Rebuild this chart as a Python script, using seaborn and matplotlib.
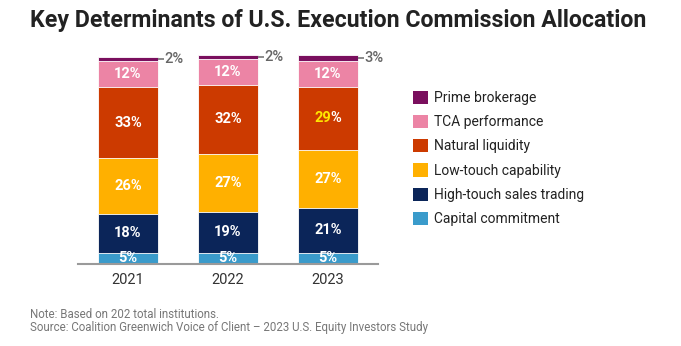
import matplotlib
matplotlib.use("Agg")
import matplotlib.pyplot as plt
import seaborn as sns
import numpy as np
import pandas as pd
from matplotlib.patches import Patch

years = ["2021", "2022", "2023"]
# stacked from the baseline upward
categories = ["Capital commitment", "High-touch sales trading", "Low-touch capability",
              "Natural liquidity", "TCA performance", "Prime brokerage"]
capital_commitment = [5, 5, 5]
high_touch = [18, 19, 21]
low_touch = [26, 27, 27]
natural_liquidity = [33, 32, 29]
tca_performance = [12, 12, 12]
prime_brokerage = [2, 2, 3]
colors = ["#3A9BCB", "#0B2559", "#FFB000", "#CC3A00", "#EC84A5", "#7A0F5E"]

series = [capital_commitment, high_touch, low_touch,
          natural_liquidity, tca_performance, prime_brokerage]

sns.set_theme(style="white")
plt.rcParams["font.family"] = ["Roboto", "DejaVu Sans"]

W, H = 681, 346
DPI = 100
fig = plt.figure(figsize=(W / DPI, H / DPI), dpi=DPI)
ax = fig.add_axes([78 / W, (H - 263.5) / H, 300 / W, 215 / H])

values = np.array(series, dtype=float)
cum = values.cumsum(axis=0)
bottoms = cum - values

# draw tallest cumulative first so each lower layer sits on top
for i in range(len(categories) - 1, -1, -1):
    df = pd.DataFrame({"year": years, "value": cum[i]})
    sns.barplot(data=df, x="year", y="value", color=colors[i], width=0.6,
                saturation=1, edgecolor="white", linewidth=0.6, ax=ax)

ax.set_xlim(-0.5, 2.5)
ax.set_ylim(0, 100)
ax.set_xlabel("")
ax.set_ylabel("")
ax.set_yticks([])
for s in ["top", "right", "left"]:
    ax.spines[s].set_visible(False)
ax.spines["bottom"].set_color("#9A9A9A")
ax.spines["bottom"].set_linewidth(1.5)
ax.tick_params(axis="x", length=0, pad=7, labelsize=10.5, labelcolor="#333333")

renderer = fig.canvas.get_renderer()
label_style = dict(fontsize=10.5, fontweight="bold")


def text_width(s):
    t = ax.text(0, 0, s, **label_style)
    w = t.get_window_extent(renderer).width
    t.remove()
    return w


highlight = {(3, 2): "#FFE600"}
for i in range(len(categories)):
    for j in range(len(years)):
        v = values[i, j]
        yc = bottoms[i, j] + v / 2
        if i == len(categories) - 1:
            ax.plot([j + 0.3, j + 0.36], [yc, yc], color="#777777", lw=1.2,
                    solid_capstyle="butt", clip_on=False)
            ax.text(j + 0.365, yc, f"{int(v)}%", ha="left", va="center",
                    fontsize=10.5, color="#666666", fontweight="medium")
            continue
        if (i, j) in highlight:
            # number and "%" drawn in two colours, centred together
            num = f"{int(v)}"
            w_full = text_width(num + "%")
            shift_pt = -w_full / 2 * 72 / DPI
            t_num = ax.annotate(num, xy=(j, yc), xytext=(shift_pt, 0),
                                textcoords="offset points", ha="left", va="center",
                                color=highlight[(i, j)], **label_style)
            ax.annotate("%", xy=(1, 0), xycoords=t_num, xytext=(-0.6, 0),
                        textcoords="offset points", ha="left", va="bottom",
                        color="white", **label_style)
        else:
            ax.text(j, yc, f"{int(v)}%", ha="center", va="center",
                    color="white", **label_style)

handles = [Patch(facecolor=colors[i], edgecolor="none") for i in range(len(categories) - 1, -1, -1)]
labels = categories[::-1]
fig.legend(handles, labels, loc="upper left", bbox_to_anchor=(413 / W, 1 - 90.5 / H),
           frameon=False, fontsize=10, handlelength=1.08, handleheight=1.08,
           handletextpad=0.45, labelspacing=0.72, borderaxespad=0, borderpad=0,
           labelcolor="#222222")

fig.text(30 / W, 1 - 20 / H, "Key Determinants of U.S. Execution Commission Allocation",
         fontsize=16.7, fontweight="bold", color="#222222", va="center", ha="left")
fig.text(30 / W, 1 - 314 / H, "Note: Based on 202 total institutions.",
         fontsize=8.3, color="#777777", va="center", ha="left")
fig.text(30 / W, 1 - 327.5 / H,
         "Source: Coalition Greenwich Voice of Client \u2013 2023 U.S. Equity Investors Study",
         fontsize=8.3, color="#777777", va="center", ha="left")

fig.savefig("out.png", dpi=DPI, facecolor="white")
